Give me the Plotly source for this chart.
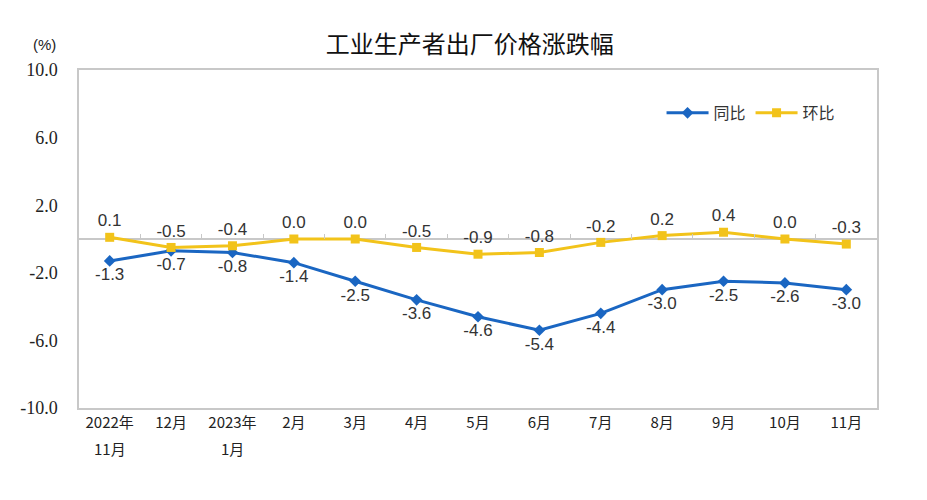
#!/usr/bin/env python3

import plotly.graph_objects as go

CHARTTITLE = "工业生产者出厂价格涨跌幅"

months = ["2022年11月", "12月", "2023年1月", "2月", "3月", "4月", "5月",
          "6月", "7月", "8月", "9月", "10月", "11月"]
# tick text split into two lines (the second line is drawn as an annotation)
tick_line1 = ["2022年", "12月", "2023年", "2月", "3月", "4月", "5月",
              "6月", "7月", "8月", "9月", "10月", "11月"]
tick_line2 = ["11月", "", "1月", "", "", "", "", "", "", "", "", "", ""]
yoy = [-1.3, -0.7, -0.8, -1.4, -2.5, -3.6, -4.6, -5.4, -4.4, -3.0, -2.5, -2.6, -3.0]
mom = [0.1, -0.5, -0.4, 0.0, 0.0, -0.5, -0.9, -0.8, -0.2, 0.2, 0.4, 0.0, -0.3]
ytickvals = [10, 6, 2, -2, -6, -10]

BLUE = "#1a66c2"
YELLOW = "#f2c31a"
LABELFONT = dict(family="Liberation Sans, Arial", size=17, color="#333333")
CJKFONT = "Noto Sans CJK SC"

fig = go.Figure()

fig.add_trace(go.Scatter(
    x=months, y=yoy, name="同比", mode="lines+markers+text",
    line=dict(color=BLUE, width=3),
    marker=dict(symbol="diamond", size=9, color=BLUE),
    text=["%.1f" % v for v in yoy], textposition="bottom center",
    textfont=LABELFONT,
))
fig.add_trace(go.Scatter(
    x=months, y=mom, name="环比", mode="lines+markers+text",
    line=dict(color=YELLOW, width=3),
    marker=dict(symbol="square", size=9, color=YELLOW),
    text=["%.1f" % v for v in mom], textposition="top center",
    textfont=LABELFONT,
))
# dummy trace so the zero-line axis with the tick marks is drawn
fig.add_trace(go.Scatter(x=months, y=[None] * len(months), xaxis="x2",
                         mode="none", showlegend=False, hoverinfo="skip"))

annos = [dict(text="(%)", xref="paper", yref="paper", x=-0.043, y=1.074,
              xanchor="center", yanchor="middle", showarrow=False,
              font=dict(family="Liberation Sans, Arial", size=15, color="#222222"))]
for m, t in zip(months, tick_line2):
    if t:
        annos.append(dict(text=t, x=m, xref="x", yref="paper", y=-0.12,
                          xanchor="center", yanchor="middle", showarrow=False,
                          font=dict(family=CJKFONT, size=15, color="#222222")))

fig.update_layout(
    width=927, height=500,
    margin=dict(l=71, r=58, t=62, b=100),
    paper_bgcolor="white", plot_bgcolor="white",
    title=dict(text=CHARTTITLE, x=0.498, y=0.926, xanchor="center", yanchor="middle",
               font=dict(family=CJKFONT, size=24, color="#111111")),
    showlegend=True,
    legend=dict(orientation="h", x=0.73, y=0.873, xanchor="left", yanchor="middle",
                font=dict(family=CJKFONT, size=16, color="#333333"),
                bgcolor="rgba(0,0,0,0)", itemwidth=42),
    xaxis=dict(type="category", categoryarray=months, range=[-0.5, 12.5],
               tickvals=months, ticktext=tick_line1,
               showline=True, linecolor="#c8c8c8", linewidth=1.5, mirror=True,
               showgrid=False, ticks="",
               tickfont=dict(family=CJKFONT, size=15, color="#222222")),
    xaxis2=dict(type="category", categoryarray=months, range=[-0.5, 12.5],
                overlaying="x", anchor="free", position=0.5,
                showline=False, showgrid=False, showticklabels=False,
                ticks="inside", tickson="boundaries", ticklen=5,
                tickcolor="#c8c8c8", tickwidth=1),
    yaxis=dict(range=[-10, 10], tickvals=ytickvals,
               ticktext=["%.1f" % v for v in ytickvals],
               showline=True, linecolor="#c8c8c8", linewidth=1.5, mirror=True,
               showgrid=False, zeroline=True, zerolinecolor="#c8c8c8", zerolinewidth=1.5,
               ticks="", ticklabelstandoff=16,
               tickfont=dict(family="Liberation Serif", size=18, color="#222222")),
    annotations=annos,
)

fig.write_html("out.html")
